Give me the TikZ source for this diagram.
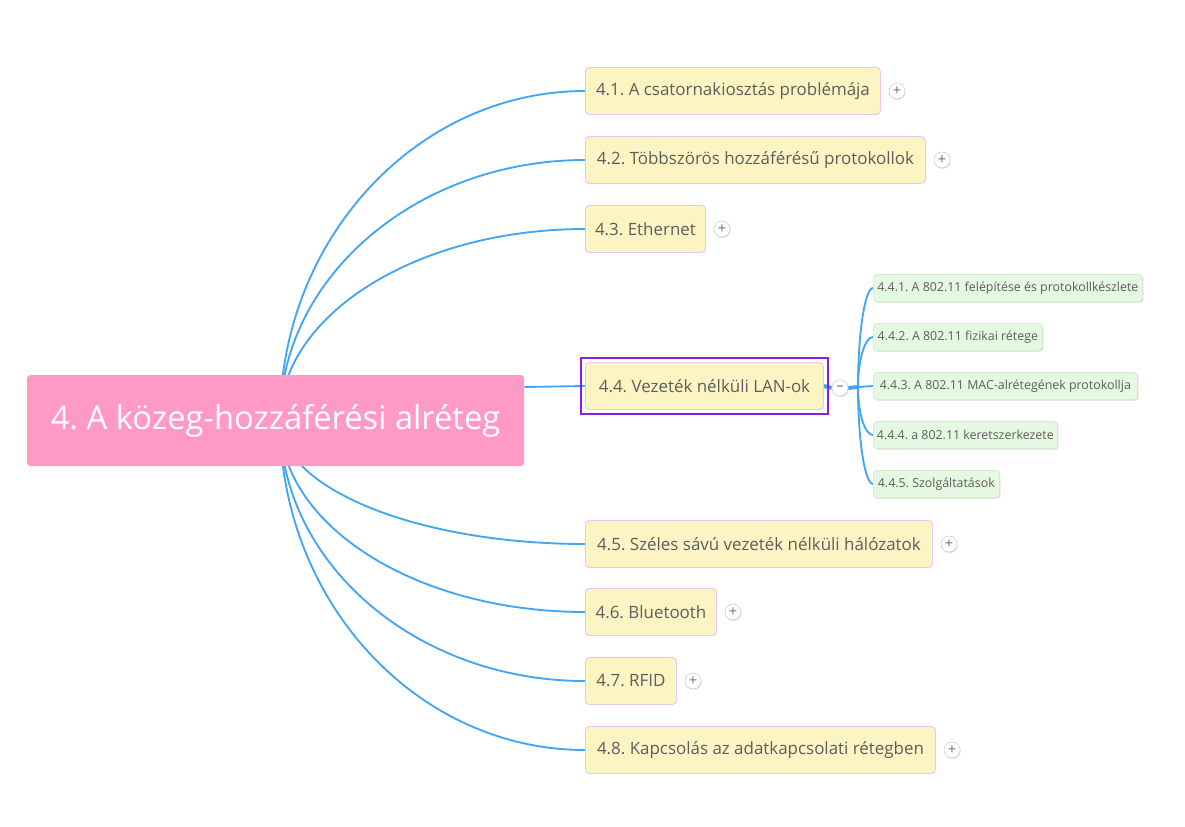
\documentclass[tikz,border=0pt]{standalone}
\usepackage{fontspec}
\setmainfont{Open Sans}
\frenchspacing
\usetikzlibrary{shadows,fit}
\definecolor{linkblue}{HTML}{42A5F5}
\definecolor{rootpink}{HTML}{FF99C8}
\definecolor{topicfill}{HTML}{FCF4C2}
\definecolor{topicborder}{HTML}{E4C8F2}
\definecolor{subfill}{HTML}{E5F8E1}
\definecolor{subborder}{HTML}{D2ECCC}
\definecolor{txtgray}{HTML}{5E5E5E}
\definecolor{selpurple}{HTML}{8A1CF0}
\pgfdeclarelayer{background}
\pgfsetlayers{background,main}
\tikzset{
  rootbox/.style={fill=rootpink, rounded corners=2.5pt, text=white,
    minimum width={497*0.75pt}, minimum height={91*0.75pt}, inner sep=0pt,
    font=\fontsize{24.5pt}{28pt}\selectfont},
  topicbox/.style={draw=topicborder, fill=topicfill, line width=0.7pt, rounded corners=3pt,
    anchor=west, minimum height={47*0.75pt}, inner sep=0pt, text=txtgray,
    font=\fontsize{12.7pt}{15pt}\selectfont},
  subbox/.style={draw=subborder, fill=subfill, line width=0.5pt, rounded corners=2.5pt,
    anchor=west, minimum height={27*0.75pt}, inner sep=0pt, text=txtgray,
    drop shadow={shadow xshift=0.8pt, shadow yshift=-0.8pt, opacity=0.25, fill=black!60},
    font=\fontsize{9.3pt}{11pt}\selectfont},
  togglebtn/.style={circle, draw=black!18, fill=white, line width=0.5pt,
    minimum size={16*0.75pt}, inner sep=0pt, text=black!55,
    drop shadow={shadow xshift=0.5pt, shadow yshift=-0.7pt, opacity=0.2, fill=black!60},
    font=\fontsize{11pt}{11pt}\selectfont},
  conn/.style={draw=linkblue, line width=1.4pt},
  thickconn/.style={draw=linkblue, line width=3pt},
}
\begin{document}
\begin{tikzpicture}[x=0.75pt,y=-0.75pt]
\useasboundingbox (0,0) rectangle (1185,826);
% root
\node[rootbox] (root) at (275.5,420.5) {4. A közeg-hozzáférési alréteg};
\coordinate (rc) at (280,420);
% main topics
\node[topicbox, minimum width={295*0.75pt}] (t1) at (585,91) {4.1. A csatornakiosztás problémája};
\node[topicbox, minimum width={340*0.75pt}] (t2) at (585,160) {4.2. Többszörös hozzáférésű protokollok};
\node[topicbox, minimum width={120*0.75pt}] (t3) at (585,229) {4.3. Ethernet};
\node[topicbox, minimum width={238*0.75pt}] (t4) at (585,386) {4.4. Vezeték nélküli LAN-ok};
\node[topicbox, minimum width={347*0.75pt}] (t5) at (585,544) {4.5. Széles sávú vezeték nélküli hálózatok};
\node[topicbox, minimum width={131*0.75pt}] (t6) at (585,612) {4.6. Bluetooth};
\node[topicbox, minimum width={91*0.75pt}] (t7) at (585,681) {4.7. RFID};
\node[topicbox, minimum width={350*0.75pt}] (t8) at (585,750) {4.8. Kapcsolás az adatkapcsolati rétegben};
% selection frame
\node[draw=selpurple, line width=1.5pt, fit=(t4), inner sep=3pt] (sel) {};
% toggles
\node[togglebtn] (p1) at (897,91) {+};
\node[togglebtn] (p2) at (942,160) {+};
\node[togglebtn] (p3) at (722,229) {+};
\node[togglebtn] (m4) at (840,388) {\raisebox{0.3pt}{–}};
\node[togglebtn] (p5) at (949,544) {+};
\node[togglebtn] (p6) at (733,612) {+};
\node[togglebtn] (p7) at (693,681) {+};
\node[togglebtn] (p8) at (952,750) {+};
% subtopics
\node[subbox, minimum width={269*0.75pt}] (s1) at (873,288) {4.4.1. A 802.11 felépítése és protokollkészlete};
\node[subbox, minimum width={169*0.75pt}] (s2) at (873,337) {4.4.2. A 802.11 fizikai rétege};
\node[subbox, minimum width={264*0.75pt}] (s3) at (873,386) {4.4.3. A 802.11 MAC-alrétegének protokollja};
\node[subbox, minimum width={184*0.75pt}] (s4) at (873,435) {4.4.4. a 802.11 keretszerkezete};
\node[subbox, minimum width={126*0.75pt}] (s5) at (873,484) {4.4.5. Szolgáltatások};
\coordinate (junc) at (858,387);
% connectors
\begin{pgfonlayer}{background}
\draw[conn] (rc) .. controls +(0,-181) and +(-168,0) .. (t1.west);
\draw[conn] (rc) .. controls +(0,-143) and +(-168,0) .. (t2.west);
\draw[conn] (rc) .. controls +(0,-105) and +(-168,0) .. (t3.west);
\draw[conn] (root.east |- 0,387) -- (t4.west);
\draw[conn] (rc) .. controls +(0,68) and +(-168,0) .. (t5.west);
\draw[conn] (rc) .. controls +(0,106) and +(-168,0) .. (t6.west);
\draw[conn] (rc) .. controls +(0,144) and +(-168,0) .. (t7.west);
\draw[conn] (rc) .. controls +(0,182) and +(-168,0) .. (t8.west);
\draw[thickconn] (t4.east) -- (m4.west);
\draw[thickconn] (m4.east) -- (junc);
\draw[conn] (junc) -- (s3.west);
\draw[conn] (junc) .. controls +(0,-54) and +(-8,0) .. (s1.west);
\draw[conn] (junc) .. controls +(0,-27) and +(-8,0) .. (s2.west);
\draw[conn] (junc) .. controls +(0,27) and +(-8,0) .. (s4.west);
\draw[conn] (junc) .. controls +(0,54) and +(-8,0) .. (s5.west);
\end{pgfonlayer}
\end{tikzpicture}
\end{document}
